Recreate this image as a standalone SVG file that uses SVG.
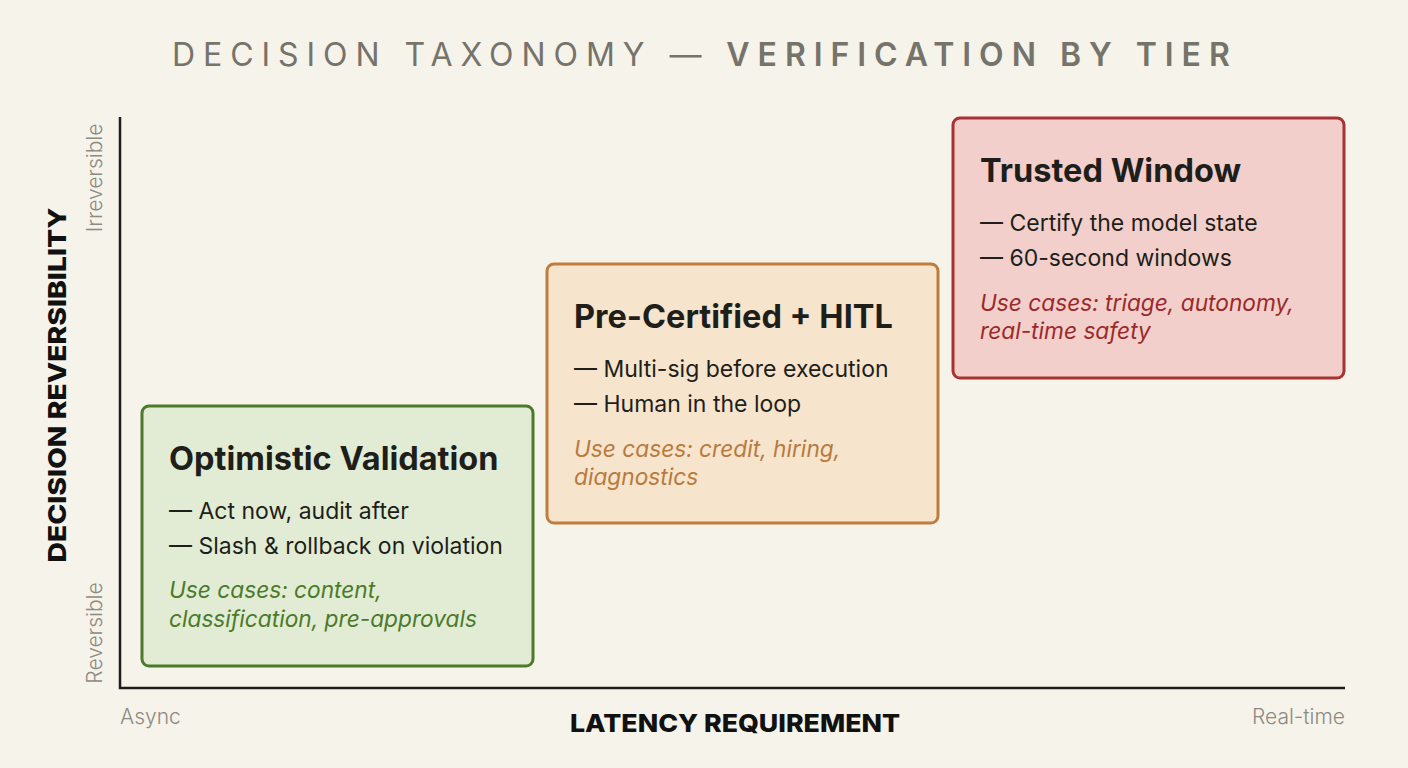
<svg xmlns="http://www.w3.org/2000/svg" width="1408" height="768" viewBox="0 0 1408 768">
<style>
text{font-family:Inter,"Noto Sans","Liberation Sans",sans-serif}
.title{font-size:32px;fill:#76736b;letter-spacing:6.2px}
.axis{stroke:#1c1c1a;stroke-width:2.5;fill:none}
.axlab{font-size:25px;font-weight:800;fill:#111}
.tick{font-size:21px;fill:#8d8a82;font-weight:300}
.h{font-size:32.5px;font-weight:700;fill:#1e1e1a}
.b{font-size:23px;fill:#1e1e1a}
.u{font-size:22.7px;font-style:italic}
</style>
<rect width="1408" height="768" fill="#f6f3ea"/>
<text class="title" x="704" y="66" text-anchor="middle" textLength="1064" lengthAdjust="spacing">DECISION TAXONOMY — <tspan font-weight="600">VERIFICATION BY TIER</tspan></text>
<g id="axes">
<path class="axis" d="M120 117 V688 H1345"/>
<text class="axlab" transform="translate(66 385) rotate(-90)" text-anchor="middle" textLength="355" lengthAdjust="spacingAndGlyphs">DECISION REVERSIBILITY</text>
<text class="tick" transform="translate(102 178) rotate(-90)" text-anchor="middle">Irreversible</text>
<text class="tick" transform="translate(102 633) rotate(-90)" text-anchor="middle">Reversible</text>
<text class="tick" x="120" y="724">Async</text>
<text class="tick" x="1345" y="724" text-anchor="end">Real-time</text>
<text class="axlab" x="735" y="732" text-anchor="middle" textLength="330" lengthAdjust="spacingAndGlyphs">LATENCY REQUIREMENT</text>
</g>
<g id="optimistic">
<rect x="142" y="406" width="391" height="260" rx="7" fill="#e2ecd4" stroke="#4a7a2a" stroke-width="3"/>
<text class="h" x="169" y="470">Optimistic Validation</text>
<text class="b" x="169" y="519">— Act now, audit after</text>
<text class="b" x="169" y="554">— Slash &amp; rollback on violation</text>
<text class="u" x="169" y="598" fill="#4a7a2a">Use cases: content,</text>
<text class="u" x="169" y="627" fill="#4a7a2a">classification, pre-approvals</text>
</g>
<g id="precertified">
<rect x="547" y="264" width="391" height="259" rx="7" fill="#f6e4cc" stroke="#c07c3c" stroke-width="3"/>
<text class="h" x="574" y="328">Pre-Certified + HITL</text>
<text class="b" x="574" y="377">— Multi-sig before execution</text>
<text class="b" x="574" y="412">— Human in the loop</text>
<text class="u" x="574" y="457" fill="#b87a3e">Use cases: credit, hiring,</text>
<text class="u" x="574" y="485" fill="#b87a3e">diagnostics</text>
</g>
<g id="trusted">
<rect x="953" y="118" width="391" height="260" rx="7" fill="#f2cfcb" stroke="#a83232" stroke-width="3"/>
<text class="h" x="980" y="182">Trusted Window</text>
<text class="b" x="980" y="231">— Certify the model state</text>
<text class="b" x="980" y="266">— 60-second windows</text>
<text class="u" x="980" y="311" fill="#9a2a2a">Use cases: triage, autonomy,</text>
<text class="u" x="980" y="339" fill="#9a2a2a">real-time safety</text>
</g>
</svg>
